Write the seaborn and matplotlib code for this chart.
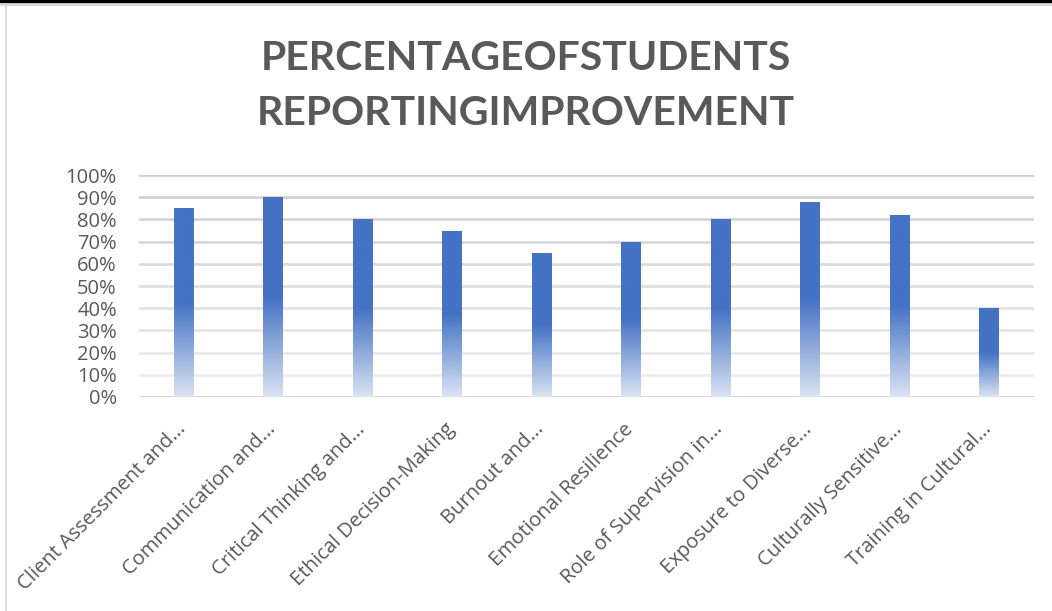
import numpy as np
import pandas as pd
import seaborn as sns
import matplotlib.pyplot as plt
import matplotlib.transforms as mtransforms
from matplotlib.colors import to_rgb
from matplotlib.ticker import PercentFormatter
from matplotlib.lines import Line2D

categories = ['Client Assessment and...', 'Communication and...', 'Critical Thinking and...',
              'Ethical Decision-Making', 'Burnout and...', 'Emotional Resilience',
              'Role of Supervision in...', 'Exposure to Diverse...', 'Culturally Sensitive...',
              'Training in Cultural...']
percent = [85, 90, 80, 75, 65, 70, 80, 88, 82, 40]
title = 'PERCENTAGEOFSTUDENTS\nREPORTINGIMPROVEMENT'

df = pd.DataFrame({'category': categories, 'percent': percent})

sns.set_theme(style='white')
plt.rcParams['font.family'] = ['Open Sans', 'DejaVu Sans']

fig = plt.figure(figsize=(10.52, 6.11), dpi=100)
ax = fig.add_axes([139 / 1052, 1 - 397 / 611, 895 / 1052, 222 / 611])

sns.barplot(data=df, x='category', y='percent', color='#4472C4', width=0.22,
            saturation=1, ax=ax, zorder=3)

# Excel-like gradient: solid on the top half, fading towards the bottom
top = np.array(to_rgb('#4472C4'))
bottom = np.array([218, 227, 243]) / 255
n = 200
t = np.linspace(0, 1, n)  # 0 at the bottom, 1 at the top
mix = np.clip(t / 0.5, 0, 1)[:, None]
grad = bottom * (1 - mix) + top * mix
grad = grad[::-1][:, None, :]
for p in ax.patches:
    x0, y0 = p.get_x(), p.get_y()
    w, h = p.get_width(), p.get_height()
    im = ax.imshow(grad, extent=[x0, x0 + w, y0, y0 + h], aspect='auto',
                   zorder=3, interpolation='bilinear')
    im.set_clip_path(p)
    p.set_facecolor('none')
    p.set_edgecolor('none')

ax.set_xlim(-0.5, len(categories) - 0.5)
ax.set_ylim(0, 100)
ax.set_yticks(range(0, 101, 10))
ax.yaxis.set_major_formatter(PercentFormatter(decimals=0))
ax.grid(axis='y', linewidth=2)
ax.set_axisbelow(True)
gl = ax.yaxis.get_gridlines()
for i, line in enumerate(gl):
    shade = 0.94 - 0.13 * i / (len(gl) - 1)
    line.set_color((shade, shade, shade))
gl[0].set_color('#D0D0D0')

for s in ax.spines.values():
    s.set_visible(False)
ax.tick_params(axis='both', length=0, colors='#595959')
ax.tick_params(axis='y', pad=16, labelsize=14.5)
ax.tick_params(axis='x', pad=16, labelsize=14.5)
shift = mtransforms.ScaledTranslation(-8 / 100, 0, fig.dpi_scale_trans)
for lbl in ax.get_xticklabels():
    lbl.set_rotation(45)
    lbl.set_ha('right')
    lbl.set_rotation_mode('anchor')
    lbl.set_transform(lbl.get_transform() + shift)
ax.set_xlabel('')
ax.set_ylabel('')

fig.text(0.5, 1 - 86 / 611, title, ha='center', va='center', fontsize=29.5,
         fontweight='bold', color='#595959', linespacing=1.6,
         family=['Lato', 'DejaVu Sans'])

# screenshot frame
fig.add_artist(Line2D([0, 1], [1 - 1 / 611, 1 - 1 / 611], color='black', linewidth=2.5,
                      transform=fig.transFigure))
fig.add_artist(Line2D([0, 1], [1 - 4.5 / 611, 1 - 4.5 / 611], color='#D9D9D9', linewidth=1.5,
                      transform=fig.transFigure))
fig.add_artist(Line2D([5.5 / 1052, 5.5 / 1052], [0, 1 - 4.5 / 611], color='#D9D9D9',
                      linewidth=1.5, transform=fig.transFigure))

fig.savefig('out.png', dpi=100)
